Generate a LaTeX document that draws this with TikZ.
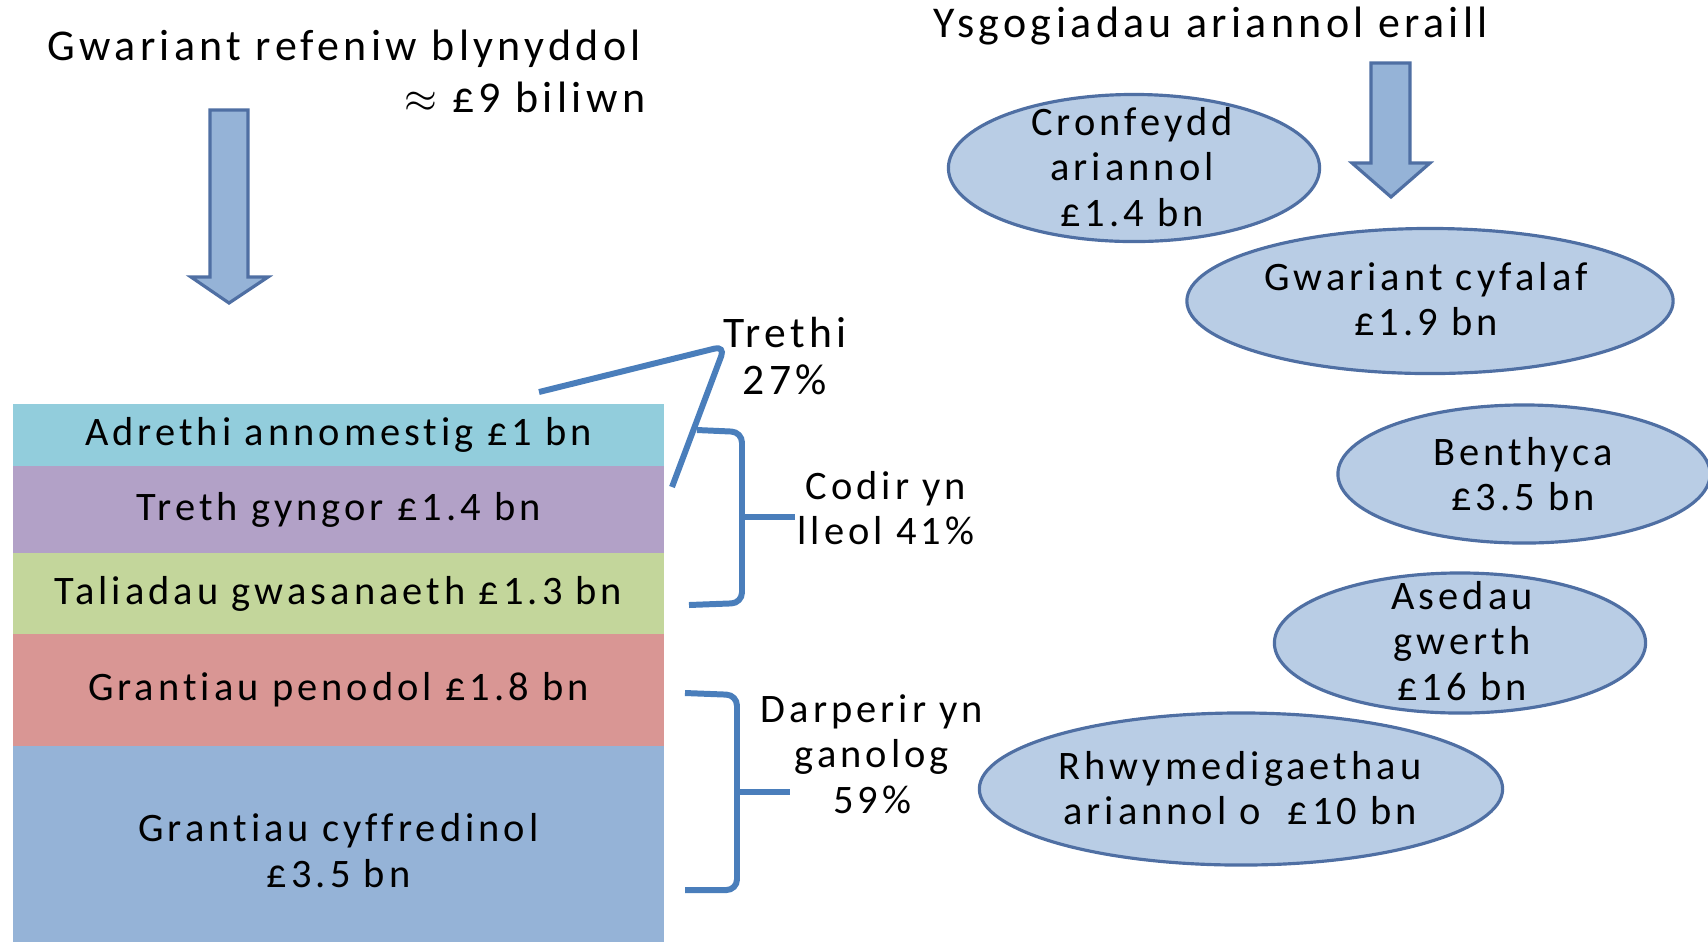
\documentclass[tikz,border=0pt]{standalone}
\usepackage{fontspec}
\setmainfont{Carlito}[LetterSpace=10, Ligatures=NoCommon]
\usepackage{tikz}
\usetikzlibrary{positioning,shapes.geometric}

\definecolor{adrcol}{HTML}{92CDDC}
\definecolor{trethcol}{HTML}{B2A1C7}
\definecolor{talcol}{HTML}{C3D69B}
\definecolor{pencol}{HTML}{D99694}
\definecolor{cyfcol}{HTML}{95B3D7}
\definecolor{ovalcol}{HTML}{B9CDE5}
\definecolor{ovaledge}{HTML}{4F6FA3}
\definecolor{bracecol}{HTML}{4A7EBB}

\tikzset{
  stack/.style={rectangle, minimum width=6.51cm, inner sep=0pt, outer sep=0pt},
  oval/.style={ellipse, fill=ovalcol, draw=ovaledge, line width=0.9pt, inner sep=0pt},
  bigarrow/.style={fill=cyfcol, draw=ovaledge, line width=0.9pt},
  brace/.style={draw=bracecol, line width=1.7pt, rounded corners=3pt},
  heading/.style={inner sep=0pt, font=\fontsize{12.5}{14}\selectfont}
}

\begin{document}
\begin{tikzpicture}[x=0.01cm, y=-0.01cm, font=\fontsize{11.5}{13}\selectfont]
  \useasboundingbox (0,0) rectangle (1708,941);

  % revenue side
  \node[heading, anchor=base west] (rev) at (47,60) {Gwariant refeniw blynyddol};
  \node[heading, anchor=base east] (revsum) at (646,112) {$\approx$ £9 biliwn};
  \draw[bigarrow] (210,110) -- (248,110) -- (248,277) -- (268,277) -- (229,303)
    -- (191,277) -- (210,277) -- cycle;

  \node[stack, fill=adrcol, minimum height=0.62cm] (adr) at (338.5,435) {Adrethi annomestig £1 bn};
  \node[stack, fill=trethcol, minimum height=0.87cm, below=0pt of adr] (treth) {Treth gyngor £1.4 bn};
  \node[stack, fill=talcol, minimum height=0.81cm, below=0pt of treth] (tal) {Taliadau gwasanaeth £1.3 bn};
  \node[stack, fill=pencol, minimum height=1.12cm, below=0pt of tal] (pen) {Grantiau penodol £1.8 bn};
  \node[stack, fill=cyfcol, minimum height=2.08cm, below=0pt of pen, align=center] (cyf)
    {Grantiau cyffredinol\\£3.5 bn};

  % taxes
  \node[align=center, font=\fontsize{12.4}{13.4}\selectfont] (trethi) at (785,356) {Trethi\\27\%};
  \coordinate (tr1) at (539,392);
  \coordinate (tr2) at (725,346);
  \coordinate (tr3) at (672,487);
  \draw[brace] (tr1) -- (tr2) -- (tr3);

  % local and central
  \coordinate (lo1) at (697,430);
  \coordinate (lo2) at (689,605);
  \coordinate (lotip) at (795,517);
  \draw[brace] (lo1) -- (742,432) -- (742,603) -- (lo2);
  \draw[brace] (742,517) -- (lotip);
  \node[align=center] (lleol) at (886,508) {Codir yn\\lleol 41\%};

  \coordinate (ce1) at (685,693);
  \coordinate (ce2) at (685,890);
  \coordinate (cetip) at (790,792);
  \draw[brace] (ce1) -- (737,695) -- (737,890) -- (ce2);
  \draw[brace] (737,792) -- (cetip);
  \node[align=center] (canol) at (872,754) {Darperir yn\\ganolog\\59\%};

  % other financial levers
  \node[heading, anchor=base west] (eraill) at (933,37) {Ysgogiadau ariannol eraill};
  \draw[bigarrow] (1371,63) -- (1410,63) -- (1410,163) -- (1430,163) -- (1391,197)
    -- (1352,163) -- (1371,163) -- cycle;

  \node[oval, minimum width=3.71cm, minimum height=1.47cm] (cron) at (1134,168) {};
  \node[align=center] (cronT) at (1132,167) {Cronfeydd\\ariannol\\£1.4 bn};

  \node[oval, minimum width=4.86cm, minimum height=1.45cm] (cyfalaf) at (1430,301) {};
  \node[align=center] (cyfalafT) at (1426,299) {Gwariant cyfalaf\\£1.9 bn};

  \node[oval, minimum width=3.72cm, minimum height=1.38cm] (benth) at (1524,474) {};
  \node[align=center] (benthT) at (1523,474) {Benthyca\\£3.5 bn};

  \node[oval, minimum width=3.71cm, minimum height=1.40cm] (ased) at (1460,643) {};
  \node[align=center] (asedT) at (1462,641) {Asedau\\gwerth\\£16 bn};

  \node[oval, minimum width=5.23cm, minimum height=1.52cm] (rhwym) at (1241,789) {};
  \node[align=center] (rhwymT) at (1240,788) {Rhwymedigaethau\\ariannol o~~£10 bn};
\end{tikzpicture}
\end{document}
